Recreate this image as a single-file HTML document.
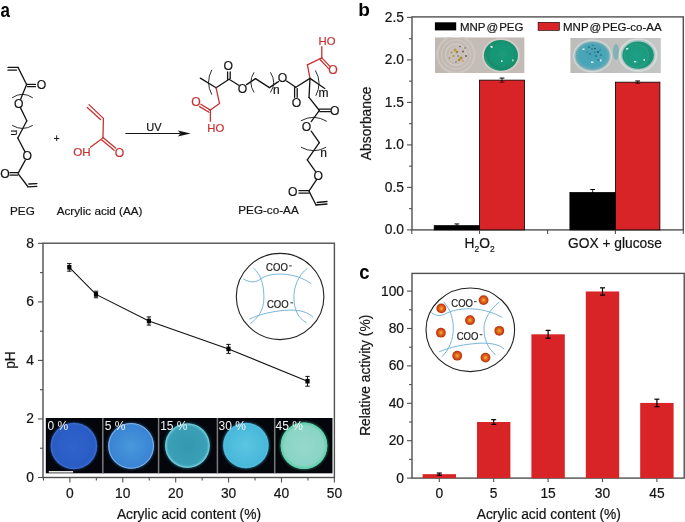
<!DOCTYPE html>
<html><head><meta charset="utf-8"><style>
html,body{margin:0;padding:0;background:#fff;overflow:hidden;}
svg{display:block;font-family:"Liberation Sans", sans-serif;will-change:transform;}
</style></head><body>
<svg width="685" height="522" viewBox="0 0 685 522">
<defs>
<radialGradient id="dot" cx="0.5" cy="0.5" r="0.5"><stop offset="0" stop-color="#f8b43a"/><stop offset="0.35" stop-color="#e8741e"/><stop offset="0.8" stop-color="#c8400f"/><stop offset="1" stop-color="#a83010"/></radialGradient>
<radialGradient id="c1"><stop offset="0" stop-color="#3064cc"/><stop offset="0.9" stop-color="#2b5bc4"/><stop offset="1" stop-color="#3e70d0"/></radialGradient>
<radialGradient id="c2"><stop offset="0" stop-color="#4898dc"/><stop offset="0.92" stop-color="#3a84d4"/><stop offset="1" stop-color="#5c9ce0"/></radialGradient>
<radialGradient id="c3"><stop offset="0" stop-color="#3498b0"/><stop offset="0.85" stop-color="#3aa0b6"/><stop offset="1" stop-color="#66c2d4"/></radialGradient>
<radialGradient id="c4"><stop offset="0" stop-color="#5cc6e2"/><stop offset="0.9" stop-color="#48b8da"/><stop offset="1" stop-color="#56c0e0"/></radialGradient>
<radialGradient id="c5"><stop offset="0" stop-color="#96d8cc"/><stop offset="0.85" stop-color="#8ad4c6"/><stop offset="1" stop-color="#62cbae"/></radialGradient>
<linearGradient id="bg1" x1="0" x2="1"><stop offset="0" stop-color="#c0b8b0"/><stop offset="0.5" stop-color="#c4bcb6"/><stop offset="1" stop-color="#c2bab6"/></linearGradient>
<linearGradient id="bg2" x1="0" x2="1"><stop offset="0" stop-color="#bcbcba"/><stop offset="1" stop-color="#c4c6c4"/></linearGradient>
<radialGradient id="gw" cx="0.5" cy="0.5" r="0.5"><stop offset="0" stop-color="#1b9a78"/><stop offset="0.8" stop-color="#179674"/><stop offset="1" stop-color="#16906e"/></radialGradient>
<radialGradient id="gw2" cx="0.5" cy="0.5" r="0.5"><stop offset="0" stop-color="#20a084"/><stop offset="0.85" stop-color="#1c9a7e"/><stop offset="1" stop-color="#2aa288"/></radialGradient>
<radialGradient id="bw" cx="0.5" cy="0.5" r="0.5"><stop offset="0" stop-color="#44a2b6"/><stop offset="0.85" stop-color="#4aa6b8"/><stop offset="1" stop-color="#54a8b8"/></radialGradient>
<filter id="bl" x="-20%" y="-20%" width="140%" height="140%"><feGaussianBlur stdDeviation="0.45"/></filter>
<filter id="glow" x="-30%" y="-30%" width="160%" height="160%"><feGaussianBlur stdDeviation="1.2"/></filter>
<clipPath id="p1"><rect x="435" y="37.3" width="89.6" height="35.7"/></clipPath>
</defs>
<rect width="685" height="522" fill="#fff"/>
<text x="0.60" y="16.90" font-size="20" fill="#000" text-anchor="start" font-weight="bold" transform="translate(0.6 0) scale(0.85 1) translate(-0.6 0)">a</text>
<text x="358.30" y="16.20" font-size="19" fill="#000" text-anchor="start" font-weight="bold" >b</text>
<text x="359.30" y="278.90" font-size="20.5" fill="#000" text-anchor="start" font-weight="bold" transform="translate(359.3 0) scale(0.9 1) translate(-359.3 0)">c</text>
<rect x="412.0" y="16.9" width="271.29999999999995" height="213.0" fill="none" stroke="#505050" stroke-width="1.4"/>
<rect x="434.2" y="225.65" width="45.30" height="4.25" fill="#000" stroke="#000" stroke-width="0.8"/>
<line x1="456.85" y1="223.95" x2="456.85" y2="227.35" stroke="#000" stroke-width="1" opacity="0.8"/>
<line x1="454.45" y1="223.95" x2="459.25" y2="223.95" stroke="#000" stroke-width="1" />
<line x1="454.45" y1="227.35" x2="459.25" y2="227.35" stroke="#000" stroke-width="1" opacity="0.6"/>
<rect x="479.5" y="80.13" width="45.00" height="149.77" fill="#d82426" stroke="#000" stroke-width="0.8"/>
<line x1="502.00" y1="78.09" x2="502.00" y2="82.17" stroke="#000" stroke-width="1" opacity="0.8"/>
<line x1="499.60" y1="78.09" x2="504.40" y2="78.09" stroke="#000" stroke-width="1" />
<line x1="499.60" y1="82.17" x2="504.40" y2="82.17" stroke="#000" stroke-width="1" opacity="0.6"/>
<rect x="569.9" y="192.50" width="45.50" height="37.40" fill="#000" stroke="#000" stroke-width="0.8"/>
<line x1="592.65" y1="189.53" x2="592.65" y2="195.47" stroke="#000" stroke-width="1" opacity="0.8"/>
<line x1="590.25" y1="189.53" x2="595.05" y2="189.53" stroke="#000" stroke-width="1" />
<line x1="590.25" y1="195.47" x2="595.05" y2="195.47" stroke="#000" stroke-width="1" opacity="0.6"/>
<rect x="615.4" y="82.17" width="44.50" height="147.73" fill="#d82426" stroke="#000" stroke-width="0.8"/>
<line x1="637.65" y1="80.98" x2="637.65" y2="83.36" stroke="#000" stroke-width="1" opacity="0.8"/>
<line x1="635.25" y1="80.98" x2="640.05" y2="80.98" stroke="#000" stroke-width="1" />
<line x1="635.25" y1="83.36" x2="640.05" y2="83.36" stroke="#000" stroke-width="1" opacity="0.6"/>
<line x1="407.00" y1="229.90" x2="412.00" y2="229.90" stroke="#505050" stroke-width="1.1" />
<text x="404.00" y="234.40" font-size="13.8" fill="#141414" text-anchor="end" font-weight="normal" stroke="#141414" stroke-width="0.2" >0.0</text>
<line x1="409.00" y1="208.65" x2="412.00" y2="208.65" stroke="#505050" stroke-width="1.1" />
<line x1="407.00" y1="187.40" x2="412.00" y2="187.40" stroke="#505050" stroke-width="1.1" />
<text x="404.00" y="191.90" font-size="13.8" fill="#141414" text-anchor="end" font-weight="normal" stroke="#141414" stroke-width="0.2" >0.5</text>
<line x1="409.00" y1="166.15" x2="412.00" y2="166.15" stroke="#505050" stroke-width="1.1" />
<line x1="407.00" y1="144.90" x2="412.00" y2="144.90" stroke="#505050" stroke-width="1.1" />
<text x="404.00" y="149.40" font-size="13.8" fill="#141414" text-anchor="end" font-weight="normal" stroke="#141414" stroke-width="0.2" >1.0</text>
<line x1="409.00" y1="123.65" x2="412.00" y2="123.65" stroke="#505050" stroke-width="1.1" />
<line x1="407.00" y1="102.40" x2="412.00" y2="102.40" stroke="#505050" stroke-width="1.1" />
<text x="404.00" y="106.90" font-size="13.8" fill="#141414" text-anchor="end" font-weight="normal" stroke="#141414" stroke-width="0.2" >1.5</text>
<line x1="409.00" y1="81.15" x2="412.00" y2="81.15" stroke="#505050" stroke-width="1.1" />
<line x1="407.00" y1="59.90" x2="412.00" y2="59.90" stroke="#505050" stroke-width="1.1" />
<text x="404.00" y="64.40" font-size="13.8" fill="#141414" text-anchor="end" font-weight="normal" stroke="#141414" stroke-width="0.2" >2.0</text>
<line x1="409.00" y1="38.65" x2="412.00" y2="38.65" stroke="#505050" stroke-width="1.1" />
<line x1="407.00" y1="17.40" x2="412.00" y2="17.40" stroke="#505050" stroke-width="1.1" />
<text x="404.00" y="21.90" font-size="13.8" fill="#141414" text-anchor="end" font-weight="normal" stroke="#141414" stroke-width="0.2" >2.5</text>
<line x1="411.80" y1="229.90" x2="411.80" y2="233.90" stroke="#505050" stroke-width="1.1" />
<line x1="479.50" y1="229.90" x2="479.50" y2="233.90" stroke="#505050" stroke-width="1.1" />
<line x1="547.60" y1="229.90" x2="547.60" y2="233.90" stroke="#505050" stroke-width="1.1" />
<line x1="615.40" y1="229.90" x2="615.40" y2="233.90" stroke="#505050" stroke-width="1.1" />
<line x1="683.30" y1="229.90" x2="683.30" y2="233.90" stroke="#505050" stroke-width="1.1" />
<text x="479.60" y="248.00" font-size="13.8" fill="#141414" text-anchor="middle" font-weight="normal" stroke="#141414" stroke-width="0.2" >H<tspan font-size="8.4" dy="4.2">2</tspan><tspan dy="-4.2">O</tspan><tspan font-size="8.4" dy="4.2">2</tspan></text>
<text x="614.90" y="248.40" font-size="13.8" fill="#141414" text-anchor="middle" font-weight="normal" stroke="#141414" stroke-width="0.2" >GOX + glucose</text>
<text x="371.30" y="123.30" font-size="13.8" fill="#141414" text-anchor="middle" font-weight="normal" stroke="#141414" stroke-width="0.2" transform="rotate(-90 371.3 123.3)">Absorbance</text>
<rect x="434.9" y="22.3" width="21.3" height="8.1" fill="#000"/>
<text x="459.90" y="30.80" font-size="11.5" fill="#141414" text-anchor="start" font-weight="normal" stroke="#141414" stroke-width="0.2" >MNP<tspan dx="1">@</tspan><tspan dx="1">PEG</tspan></text>
<rect x="538.1" y="22.3" width="21.3" height="8.1" fill="#d82426" stroke="#000" stroke-width="0.6"/>
<text x="563.00" y="30.80" font-size="11.5" fill="#141414" text-anchor="start" font-weight="normal" stroke="#141414" stroke-width="0.2" >MNP<tspan dx="1">@</tspan><tspan dx="1">PEG-co-AA</tspan></text>
<rect x="412.0" y="273.4" width="272.20000000000005" height="204.70000000000005" fill="none" stroke="#505050" stroke-width="1.4"/>
<rect x="422.60" y="474.17" width="33.4" height="3.93" fill="#d82426"/>
<line x1="439.30" y1="473.05" x2="439.30" y2="475.30" stroke="#000" stroke-width="1.2" />
<line x1="436.80" y1="473.05" x2="441.80" y2="473.05" stroke="#000" stroke-width="1.2" />
<line x1="436.80" y1="475.30" x2="441.80" y2="475.30" stroke="#000" stroke-width="1.2" />
<line x1="439.30" y1="478.10" x2="439.30" y2="482.10" stroke="#505050" stroke-width="1.1" />
<text x="439.30" y="498.30" font-size="13.8" fill="#141414" text-anchor="middle" font-weight="normal" stroke="#141414" stroke-width="0.2" >0</text>
<rect x="477.00" y="422.00" width="33.4" height="56.10" fill="#d82426"/>
<line x1="493.70" y1="419.66" x2="493.70" y2="424.34" stroke="#000" stroke-width="1.2" />
<line x1="491.20" y1="419.66" x2="496.20" y2="419.66" stroke="#000" stroke-width="1.2" />
<line x1="491.20" y1="424.34" x2="496.20" y2="424.34" stroke="#000" stroke-width="1.2" />
<line x1="493.70" y1="478.10" x2="493.70" y2="482.10" stroke="#505050" stroke-width="1.1" />
<text x="493.70" y="498.30" font-size="13.8" fill="#141414" text-anchor="middle" font-weight="normal" stroke="#141414" stroke-width="0.2" >5</text>
<rect x="531.40" y="334.30" width="33.4" height="143.80" fill="#d82426"/>
<line x1="548.10" y1="330.37" x2="548.10" y2="338.22" stroke="#000" stroke-width="1.2" />
<line x1="545.60" y1="330.37" x2="550.60" y2="330.37" stroke="#000" stroke-width="1.2" />
<line x1="545.60" y1="338.22" x2="550.60" y2="338.22" stroke="#000" stroke-width="1.2" />
<line x1="548.10" y1="478.10" x2="548.10" y2="482.10" stroke="#505050" stroke-width="1.1" />
<text x="548.10" y="498.30" font-size="13.8" fill="#141414" text-anchor="middle" font-weight="normal" stroke="#141414" stroke-width="0.2" >15</text>
<rect x="585.80" y="291.47" width="33.4" height="186.63" fill="#d82426"/>
<line x1="602.50" y1="287.83" x2="602.50" y2="295.12" stroke="#000" stroke-width="1.2" />
<line x1="600.00" y1="287.83" x2="605.00" y2="287.83" stroke="#000" stroke-width="1.2" />
<line x1="600.00" y1="295.12" x2="605.00" y2="295.12" stroke="#000" stroke-width="1.2" />
<line x1="602.50" y1="478.10" x2="602.50" y2="482.10" stroke="#505050" stroke-width="1.1" />
<text x="602.50" y="498.30" font-size="13.8" fill="#141414" text-anchor="middle" font-weight="normal" stroke="#141414" stroke-width="0.2" >30</text>
<rect x="640.20" y="402.93" width="33.4" height="75.17" fill="#d82426"/>
<line x1="656.90" y1="399.19" x2="656.90" y2="406.67" stroke="#000" stroke-width="1.2" />
<line x1="654.40" y1="399.19" x2="659.40" y2="399.19" stroke="#000" stroke-width="1.2" />
<line x1="654.40" y1="406.67" x2="659.40" y2="406.67" stroke="#000" stroke-width="1.2" />
<line x1="656.90" y1="478.10" x2="656.90" y2="482.10" stroke="#505050" stroke-width="1.1" />
<text x="656.90" y="498.30" font-size="13.8" fill="#141414" text-anchor="middle" font-weight="normal" stroke="#141414" stroke-width="0.2" >45</text>
<line x1="407.00" y1="478.10" x2="412.00" y2="478.10" stroke="#505050" stroke-width="1.1" />
<text x="404.00" y="482.60" font-size="13.8" fill="#141414" text-anchor="end" font-weight="normal" stroke="#141414" stroke-width="0.2" >0</text>
<line x1="409.00" y1="459.40" x2="412.00" y2="459.40" stroke="#505050" stroke-width="1.1" />
<line x1="407.00" y1="440.70" x2="412.00" y2="440.70" stroke="#505050" stroke-width="1.1" />
<text x="404.00" y="445.20" font-size="13.8" fill="#141414" text-anchor="end" font-weight="normal" stroke="#141414" stroke-width="0.2" >20</text>
<line x1="409.00" y1="422.00" x2="412.00" y2="422.00" stroke="#505050" stroke-width="1.1" />
<line x1="407.00" y1="403.30" x2="412.00" y2="403.30" stroke="#505050" stroke-width="1.1" />
<text x="404.00" y="407.80" font-size="13.8" fill="#141414" text-anchor="end" font-weight="normal" stroke="#141414" stroke-width="0.2" >40</text>
<line x1="409.00" y1="384.60" x2="412.00" y2="384.60" stroke="#505050" stroke-width="1.1" />
<line x1="407.00" y1="365.90" x2="412.00" y2="365.90" stroke="#505050" stroke-width="1.1" />
<text x="404.00" y="370.40" font-size="13.8" fill="#141414" text-anchor="end" font-weight="normal" stroke="#141414" stroke-width="0.2" >60</text>
<line x1="409.00" y1="347.20" x2="412.00" y2="347.20" stroke="#505050" stroke-width="1.1" />
<line x1="407.00" y1="328.50" x2="412.00" y2="328.50" stroke="#505050" stroke-width="1.1" />
<text x="404.00" y="333.00" font-size="13.8" fill="#141414" text-anchor="end" font-weight="normal" stroke="#141414" stroke-width="0.2" >80</text>
<line x1="409.00" y1="309.80" x2="412.00" y2="309.80" stroke="#505050" stroke-width="1.1" />
<line x1="407.00" y1="291.10" x2="412.00" y2="291.10" stroke="#505050" stroke-width="1.1" />
<text x="404.00" y="295.60" font-size="13.8" fill="#141414" text-anchor="end" font-weight="normal" stroke="#141414" stroke-width="0.2" >100</text>
<text x="548.80" y="518.50" font-size="13.8" fill="#141414" text-anchor="middle" font-weight="normal" stroke="#141414" stroke-width="0.2" >Acrylic acid content (%)</text>
<text x="370.40" y="375.30" font-size="13.8" fill="#141414" text-anchor="middle" font-weight="normal" stroke="#141414" stroke-width="0.2" transform="rotate(-90 370.4 375.3)">Relative activity (%)</text>
<rect x="43.0" y="243.2" width="291.4" height="234.3" fill="none" stroke="#505050" stroke-width="1.4"/>
<line x1="38.00" y1="477.50" x2="43.00" y2="477.50" stroke="#505050" stroke-width="1.1" />
<text x="34.00" y="482.00" font-size="13.8" fill="#141414" text-anchor="end" font-weight="normal" stroke="#141414" stroke-width="0.2" >0</text>
<line x1="40.00" y1="448.23" x2="43.00" y2="448.23" stroke="#505050" stroke-width="1.1" />
<line x1="38.00" y1="418.96" x2="43.00" y2="418.96" stroke="#505050" stroke-width="1.1" />
<text x="34.00" y="423.46" font-size="13.8" fill="#141414" text-anchor="end" font-weight="normal" stroke="#141414" stroke-width="0.2" >2</text>
<line x1="40.00" y1="389.69" x2="43.00" y2="389.69" stroke="#505050" stroke-width="1.1" />
<line x1="38.00" y1="360.42" x2="43.00" y2="360.42" stroke="#505050" stroke-width="1.1" />
<text x="34.00" y="364.92" font-size="13.8" fill="#141414" text-anchor="end" font-weight="normal" stroke="#141414" stroke-width="0.2" >4</text>
<line x1="40.00" y1="331.15" x2="43.00" y2="331.15" stroke="#505050" stroke-width="1.1" />
<line x1="38.00" y1="301.88" x2="43.00" y2="301.88" stroke="#505050" stroke-width="1.1" />
<text x="34.00" y="306.38" font-size="13.8" fill="#141414" text-anchor="end" font-weight="normal" stroke="#141414" stroke-width="0.2" >6</text>
<line x1="40.00" y1="272.61" x2="43.00" y2="272.61" stroke="#505050" stroke-width="1.1" />
<line x1="38.00" y1="243.34" x2="43.00" y2="243.34" stroke="#505050" stroke-width="1.1" />
<text x="34.00" y="247.84" font-size="13.8" fill="#141414" text-anchor="end" font-weight="normal" stroke="#141414" stroke-width="0.2" >8</text>
<line x1="43.45" y1="477.50" x2="43.45" y2="480.50" stroke="#505050" stroke-width="1.1" />
<line x1="69.90" y1="477.50" x2="69.90" y2="482.50" stroke="#505050" stroke-width="1.1" />
<text x="69.90" y="498.30" font-size="13.8" fill="#141414" text-anchor="middle" font-weight="normal" stroke="#141414" stroke-width="0.2" >0</text>
<line x1="96.35" y1="477.50" x2="96.35" y2="480.50" stroke="#505050" stroke-width="1.1" />
<line x1="122.80" y1="477.50" x2="122.80" y2="482.50" stroke="#505050" stroke-width="1.1" />
<text x="122.80" y="498.30" font-size="13.8" fill="#141414" text-anchor="middle" font-weight="normal" stroke="#141414" stroke-width="0.2" >10</text>
<line x1="149.25" y1="477.50" x2="149.25" y2="480.50" stroke="#505050" stroke-width="1.1" />
<line x1="175.70" y1="477.50" x2="175.70" y2="482.50" stroke="#505050" stroke-width="1.1" />
<text x="175.70" y="498.30" font-size="13.8" fill="#141414" text-anchor="middle" font-weight="normal" stroke="#141414" stroke-width="0.2" >20</text>
<line x1="202.15" y1="477.50" x2="202.15" y2="480.50" stroke="#505050" stroke-width="1.1" />
<line x1="228.60" y1="477.50" x2="228.60" y2="482.50" stroke="#505050" stroke-width="1.1" />
<text x="228.60" y="498.30" font-size="13.8" fill="#141414" text-anchor="middle" font-weight="normal" stroke="#141414" stroke-width="0.2" >30</text>
<line x1="255.05" y1="477.50" x2="255.05" y2="480.50" stroke="#505050" stroke-width="1.1" />
<line x1="281.50" y1="477.50" x2="281.50" y2="482.50" stroke="#505050" stroke-width="1.1" />
<text x="281.50" y="498.30" font-size="13.8" fill="#141414" text-anchor="middle" font-weight="normal" stroke="#141414" stroke-width="0.2" >40</text>
<line x1="307.95" y1="477.50" x2="307.95" y2="480.50" stroke="#505050" stroke-width="1.1" />
<line x1="334.40" y1="477.50" x2="334.40" y2="482.50" stroke="#505050" stroke-width="1.1" />
<text x="334.40" y="498.30" font-size="13.8" fill="#141414" text-anchor="middle" font-weight="normal" stroke="#141414" stroke-width="0.2" >50</text>
<text x="189.00" y="518.50" font-size="13.8" fill="#141414" text-anchor="middle" font-weight="normal" stroke="#141414" stroke-width="0.2" >Acrylic acid content (%)</text>
<text x="14.60" y="360.00" font-size="13.8" fill="#141414" text-anchor="middle" font-weight="normal" stroke="#141414" stroke-width="0.2" transform="rotate(-90 14.6 360)">pH</text>
<line x1="8.00" y1="67.40" x2="18.00" y2="67.40" stroke="#141414" stroke-width="1.3" stroke-linecap="round"/>
<line x1="8.00" y1="70.20" x2="16.50" y2="70.20" stroke="#141414" stroke-width="1.3" stroke-linecap="round"/>
<line x1="18.00" y1="67.40" x2="26.60" y2="84.50" stroke="#141414" stroke-width="1.3" stroke-linecap="round"/>
<line x1="26.60" y1="84.40" x2="35.40" y2="84.40" stroke="#141414" stroke-width="1.3" stroke-linecap="round"/>
<line x1="27.40" y1="86.70" x2="35.40" y2="86.70" stroke="#141414" stroke-width="1.3" stroke-linecap="round"/>
<text x="41.60" y="88.97" font-size="12.2" fill="#141414" text-anchor="middle" font-weight="normal" stroke="#141414" stroke-width="0.2" >O</text>
<line x1="26.60" y1="84.50" x2="20.60" y2="99.30" stroke="#141414" stroke-width="1.3" stroke-linecap="round"/>
<path d="M12.1,97.8 Q22.4,90.8 32.8,97.8" fill="none" stroke="#141414" stroke-width="0.9"/>
<text x="18.70" y="107.57" font-size="12.2" fill="#141414" text-anchor="middle" font-weight="normal" stroke="#141414" stroke-width="0.2" >O</text>
<line x1="20.40" y1="107.60" x2="26.80" y2="120.80" stroke="#141414" stroke-width="1.3" stroke-linecap="round"/>
<line x1="26.80" y1="120.80" x2="17.80" y2="138.00" stroke="#141414" stroke-width="1.3" stroke-linecap="round"/>
<path d="M12.2,125.3 Q22.4,131.6 32.8,125.3" fill="none" stroke="#141414" stroke-width="0.9"/>
<text x="11.10" y="132.70" font-size="10.6" fill="#141414" text-anchor="middle" font-weight="normal" stroke="#141414" stroke-width="0.2" transform="rotate(90 11.1 132.7)">n</text>
<line x1="17.80" y1="138.00" x2="24.90" y2="151.60" stroke="#141414" stroke-width="1.3" stroke-linecap="round"/>
<text x="27.30" y="160.37" font-size="12.2" fill="#141414" text-anchor="middle" font-weight="normal" stroke="#141414" stroke-width="0.2" >O</text>
<line x1="25.20" y1="160.40" x2="18.20" y2="173.10" stroke="#141414" stroke-width="1.3" stroke-linecap="round"/>
<line x1="10.00" y1="172.60" x2="18.20" y2="172.60" stroke="#141414" stroke-width="1.3" stroke-linecap="round"/>
<line x1="10.00" y1="175.20" x2="17.60" y2="175.20" stroke="#141414" stroke-width="1.3" stroke-linecap="round"/>
<text x="5.00" y="178.27" font-size="12.2" fill="#141414" text-anchor="middle" font-weight="normal" stroke="#141414" stroke-width="0.2" >O</text>
<line x1="18.20" y1="173.90" x2="27.80" y2="186.50" stroke="#141414" stroke-width="1.3" stroke-linecap="round"/>
<line x1="28.80" y1="184.00" x2="36.90" y2="183.60" stroke="#141414" stroke-width="1.3" stroke-linecap="round"/>
<line x1="27.80" y1="186.80" x2="36.90" y2="186.40" stroke="#141414" stroke-width="1.3" stroke-linecap="round"/>
<text x="56.70" y="142.20" font-size="10" fill="#141414" text-anchor="middle" font-weight="normal" stroke="#141414" stroke-width="0.2" >+</text>
<line x1="89.00" y1="104.60" x2="103.40" y2="118.40" stroke="#c83232" stroke-width="1.3" stroke-linecap="round"/>
<line x1="87.30" y1="107.50" x2="100.50" y2="119.60" stroke="#c83232" stroke-width="1.3" stroke-linecap="round"/>
<line x1="103.40" y1="118.40" x2="103.00" y2="137.40" stroke="#c83232" stroke-width="1.3" stroke-linecap="round"/>
<line x1="103.00" y1="137.40" x2="115.60" y2="148.00" stroke="#c83232" stroke-width="1.3" stroke-linecap="round"/>
<line x1="101.80" y1="139.90" x2="114.20" y2="150.20" stroke="#c83232" stroke-width="1.3" stroke-linecap="round"/>
<text x="119.50" y="156.77" font-size="12.2" fill="#c83232" text-anchor="middle" font-weight="normal" stroke="#c83232" stroke-width="0.2" >O</text>
<line x1="102.60" y1="138.20" x2="90.40" y2="147.20" stroke="#c83232" stroke-width="1.3" stroke-linecap="round"/>
<text x="73.30" y="155.80" font-size="11.6" fill="#c83232" text-anchor="start" font-weight="normal" stroke="#c83232" stroke-width="0.2" >OH</text>
<line x1="125.80" y1="133.50" x2="180.00" y2="133.50" stroke="#141414" stroke-width="1.1" stroke-linecap="round"/>
<path d="M190.7,133.5 L177.8,130.6 L180.5,133.5 L177.8,136.4 Z" fill="#141414"/>
<text x="153.90" y="130.90" font-size="11" fill="#141414" text-anchor="middle" font-weight="normal" stroke="#141414" stroke-width="0.2" >UV</text>
<line x1="200.30" y1="78.10" x2="216.10" y2="87.80" stroke="#141414" stroke-width="1.3" stroke-linecap="round"/>
<path d="M211.8,69.8 Q205.3,82.3 211.8,94.7" fill="none" stroke="#141414" stroke-width="0.9"/>
<line x1="216.10" y1="87.80" x2="229.10" y2="79.30" stroke="#141414" stroke-width="1.3" stroke-linecap="round"/>
<line x1="227.60" y1="79.30" x2="227.60" y2="72.00" stroke="#141414" stroke-width="1.3" stroke-linecap="round"/>
<line x1="230.20" y1="78.40" x2="230.20" y2="72.00" stroke="#141414" stroke-width="1.3" stroke-linecap="round"/>
<text x="228.30" y="69.97" font-size="12.2" fill="#141414" text-anchor="middle" font-weight="normal" stroke="#141414" stroke-width="0.2" >O</text>
<line x1="229.10" y1="79.30" x2="238.80" y2="85.30" stroke="#141414" stroke-width="1.3" stroke-linecap="round"/>
<text x="242.60" y="92.87" font-size="12.2" fill="#141414" text-anchor="middle" font-weight="normal" stroke="#141414" stroke-width="0.2" >O</text>
<line x1="246.60" y1="84.60" x2="255.50" y2="78.60" stroke="#141414" stroke-width="1.3" stroke-linecap="round"/>
<path d="M254.1,72.3 Q247.6,82.4 254.1,92.5" fill="none" stroke="#141414" stroke-width="0.9"/>
<line x1="255.50" y1="78.60" x2="269.40" y2="87.60" stroke="#141414" stroke-width="1.3" stroke-linecap="round"/>
<path d="M270.4,72.3 Q277.0,82.4 270.4,92.5" fill="none" stroke="#141414" stroke-width="0.9"/>
<line x1="269.40" y1="87.60" x2="278.40" y2="81.60" stroke="#141414" stroke-width="1.3" stroke-linecap="round"/>
<text x="276.40" y="94.40" font-size="12" fill="#141414" text-anchor="middle" font-weight="normal" stroke="#141414" stroke-width="0.2" >n</text>
<text x="282.40" y="82.07" font-size="12.2" fill="#141414" text-anchor="middle" font-weight="normal" stroke="#141414" stroke-width="0.2" >O</text>
<line x1="286.60" y1="81.00" x2="295.80" y2="87.20" stroke="#141414" stroke-width="1.3" stroke-linecap="round"/>
<line x1="294.60" y1="87.60" x2="294.60" y2="97.30" stroke="#141414" stroke-width="1.3" stroke-linecap="round"/>
<line x1="297.20" y1="88.60" x2="297.20" y2="97.30" stroke="#141414" stroke-width="1.3" stroke-linecap="round"/>
<text x="296.50" y="106.97" font-size="12.2" fill="#141414" text-anchor="middle" font-weight="normal" stroke="#141414" stroke-width="0.2" >O</text>
<line x1="295.80" y1="87.20" x2="310.00" y2="78.40" stroke="#141414" stroke-width="1.3" stroke-linecap="round"/>
<line x1="310.00" y1="78.40" x2="307.40" y2="64.80" stroke="#c83232" stroke-width="1.3" stroke-linecap="round"/>
<line x1="307.40" y1="64.80" x2="321.80" y2="57.90" stroke="#c83232" stroke-width="1.3" stroke-linecap="round"/>
<line x1="321.80" y1="57.90" x2="321.80" y2="46.60" stroke="#c83232" stroke-width="1.3" stroke-linecap="round"/>
<text x="318.60" y="44.80" font-size="11.3" fill="#c83232" text-anchor="start" font-weight="normal" stroke="#c83232" stroke-width="0.2" >HO</text>
<line x1="321.80" y1="57.90" x2="330.20" y2="66.60" stroke="#c83232" stroke-width="1.3" stroke-linecap="round"/>
<line x1="320.20" y1="59.80" x2="328.40" y2="68.40" stroke="#c83232" stroke-width="1.3" stroke-linecap="round"/>
<text x="333.00" y="74.17" font-size="12.2" fill="#c83232" text-anchor="middle" font-weight="normal" stroke="#c83232" stroke-width="0.2" >O</text>
<line x1="310.00" y1="78.40" x2="324.80" y2="88.50" stroke="#141414" stroke-width="1.3" stroke-linecap="round"/>
<path d="M315.3,70.4 Q322.6,82.5 315.8,95.8" fill="none" stroke="#141414" stroke-width="0.9"/>
<text x="323.40" y="97.00" font-size="12" fill="#141414" text-anchor="middle" font-weight="normal" stroke="#141414" stroke-width="0.2" >m</text>
<line x1="310.00" y1="78.40" x2="309.00" y2="97.40" stroke="#141414" stroke-width="1.3" stroke-linecap="round"/>
<line x1="309.00" y1="97.40" x2="319.40" y2="110.50" stroke="#141414" stroke-width="1.3" stroke-linecap="round"/>
<line x1="319.40" y1="109.10" x2="330.40" y2="109.10" stroke="#141414" stroke-width="1.3" stroke-linecap="round"/>
<line x1="319.80" y1="111.70" x2="330.40" y2="111.70" stroke="#141414" stroke-width="1.3" stroke-linecap="round"/>
<text x="334.70" y="114.77" font-size="12.2" fill="#141414" text-anchor="middle" font-weight="normal" stroke="#141414" stroke-width="0.2" >O</text>
<line x1="319.40" y1="110.40" x2="311.20" y2="121.60" stroke="#141414" stroke-width="1.3" stroke-linecap="round"/>
<path d="M300.9,120.8 Q313.8,113.6 326.8,121.3" fill="none" stroke="#141414" stroke-width="0.9"/>
<text x="306.40" y="130.77" font-size="12.2" fill="#141414" text-anchor="middle" font-weight="normal" stroke="#141414" stroke-width="0.2" >O</text>
<line x1="311.20" y1="131.10" x2="319.30" y2="142.70" stroke="#141414" stroke-width="1.3" stroke-linecap="round"/>
<line x1="319.30" y1="142.70" x2="307.30" y2="159.80" stroke="#141414" stroke-width="1.3" stroke-linecap="round"/>
<path d="M300.9,147.2 Q314.0,154.2 326.2,147.2" fill="none" stroke="#141414" stroke-width="0.9"/>
<text x="323.60" y="157.10" font-size="12" fill="#141414" text-anchor="middle" font-weight="normal" stroke="#141414" stroke-width="0.2" >n</text>
<line x1="307.30" y1="159.80" x2="315.40" y2="171.40" stroke="#141414" stroke-width="1.3" stroke-linecap="round"/>
<text x="318.30" y="179.97" font-size="12.2" fill="#141414" text-anchor="middle" font-weight="normal" stroke="#141414" stroke-width="0.2" >O</text>
<line x1="316.60" y1="179.60" x2="309.10" y2="190.90" stroke="#141414" stroke-width="1.3" stroke-linecap="round"/>
<line x1="298.90" y1="190.60" x2="309.10" y2="190.60" stroke="#141414" stroke-width="1.3" stroke-linecap="round"/>
<line x1="298.90" y1="193.10" x2="309.10" y2="193.10" stroke="#141414" stroke-width="1.3" stroke-linecap="round"/>
<text x="292.70" y="196.17" font-size="12.2" fill="#141414" text-anchor="middle" font-weight="normal" stroke="#141414" stroke-width="0.2" >O</text>
<line x1="309.10" y1="191.40" x2="316.00" y2="205.00" stroke="#141414" stroke-width="1.3" stroke-linecap="round"/>
<line x1="317.10" y1="202.50" x2="327.00" y2="201.50" stroke="#141414" stroke-width="1.3" stroke-linecap="round"/>
<line x1="316.00" y1="205.00" x2="327.00" y2="204.00" stroke="#141414" stroke-width="1.3" stroke-linecap="round"/>
<line x1="216.10" y1="87.80" x2="219.50" y2="103.40" stroke="#c83232" stroke-width="1.3" stroke-linecap="round"/>
<line x1="219.50" y1="103.40" x2="210.40" y2="110.10" stroke="#c83232" stroke-width="1.3" stroke-linecap="round"/>
<line x1="210.40" y1="110.10" x2="200.80" y2="104.30" stroke="#c83232" stroke-width="1.3" stroke-linecap="round"/>
<line x1="209.00" y1="112.20" x2="199.60" y2="106.60" stroke="#c83232" stroke-width="1.3" stroke-linecap="round"/>
<text x="196.00" y="106.17" font-size="12.2" fill="#c83232" text-anchor="middle" font-weight="normal" stroke="#c83232" stroke-width="0.2" >O</text>
<line x1="210.40" y1="110.10" x2="210.40" y2="121.20" stroke="#c83232" stroke-width="1.3" stroke-linecap="round"/>
<text x="207.30" y="132.10" font-size="11.3" fill="#c83232" text-anchor="start" font-weight="normal" stroke="#c83232" stroke-width="0.2" >HO</text>
<text x="22.40" y="214.80" font-size="11.7" fill="#141414" text-anchor="middle" font-weight="normal" stroke="#141414" stroke-width="0.2" >PEG</text>
<text x="99.60" y="214.80" font-size="11.7" fill="#141414" text-anchor="middle" font-weight="normal" stroke="#141414" stroke-width="0.2" >Acrylic acid (AA)</text>
<text x="268.50" y="214.10" font-size="11.7" fill="#141414" text-anchor="middle" font-weight="normal" stroke="#141414" stroke-width="0.2" >PEG-co-AA</text>
<path d="M69.3,267.3 L96.0,294.4 L148.9,321.0 L228.5,348.9 L307.5,381.2" fill="none" stroke="#111" stroke-width="1.1"/>
<line x1="69.30" y1="263.60" x2="69.30" y2="271.20" stroke="#111" stroke-width="1.0" />
<line x1="67.10" y1="263.60" x2="71.50" y2="263.60" stroke="#111" stroke-width="1.0" />
<line x1="67.10" y1="271.20" x2="71.50" y2="271.20" stroke="#111" stroke-width="1.0" />
<rect x="67.20" y="265.00" width="4.2" height="4.6" fill="#000"/>
<line x1="96.00" y1="291.20" x2="96.00" y2="297.80" stroke="#111" stroke-width="1.0" />
<line x1="93.80" y1="291.20" x2="98.20" y2="291.20" stroke="#111" stroke-width="1.0" />
<line x1="93.80" y1="297.80" x2="98.20" y2="297.80" stroke="#111" stroke-width="1.0" />
<rect x="93.90" y="292.10" width="4.2" height="4.6" fill="#000"/>
<line x1="148.90" y1="316.90" x2="148.90" y2="325.10" stroke="#111" stroke-width="1.0" />
<line x1="146.70" y1="316.90" x2="151.10" y2="316.90" stroke="#111" stroke-width="1.0" />
<line x1="146.70" y1="325.10" x2="151.10" y2="325.10" stroke="#111" stroke-width="1.0" />
<rect x="146.80" y="318.70" width="4.2" height="4.6" fill="#000"/>
<line x1="228.50" y1="344.40" x2="228.50" y2="353.40" stroke="#111" stroke-width="1.0" />
<line x1="226.30" y1="344.40" x2="230.70" y2="344.40" stroke="#111" stroke-width="1.0" />
<line x1="226.30" y1="353.40" x2="230.70" y2="353.40" stroke="#111" stroke-width="1.0" />
<rect x="226.40" y="346.60" width="4.2" height="4.6" fill="#000"/>
<line x1="307.50" y1="376.40" x2="307.50" y2="386.20" stroke="#111" stroke-width="1.0" />
<line x1="305.30" y1="376.40" x2="309.70" y2="376.40" stroke="#111" stroke-width="1.0" />
<line x1="305.30" y1="386.20" x2="309.70" y2="386.20" stroke="#111" stroke-width="1.0" />
<rect x="305.40" y="378.90" width="4.2" height="4.6" fill="#000"/>
<ellipse cx="280.1" cy="296.5" rx="43.8" ry="43.1" fill="#fff" stroke="#222" stroke-width="1.1"/>
<path d="M243.3,278.8 C250,283 256,283 262,278 C272,272 295,272 311.2,283.7" fill="none" stroke="#6aaed6" stroke-width="0.9"/>
<path d="M253.5,268.2 C262,275 264,288 263.9,298 C263.9,310 258,318 250.2,323.8" fill="none" stroke="#6aaed6" stroke-width="0.9"/>
<path d="M307.6,268.2 C298,275 293.5,288 293.9,298 C294.2,310 298,318 306.7,322.9" fill="none" stroke="#6aaed6" stroke-width="0.9"/>
<path d="M249.3,319.2 C260,314 275,310.5 290,310.1 C300,310 308,312 313.1,317.4" fill="none" stroke="#6aaed6" stroke-width="0.9"/>
<text x="266.10" y="270.80" font-size="10.2" fill="#1a1a1a" text-anchor="start" font-weight="normal" stroke="#1a1a1a" stroke-width="0.2" transform="translate(266.1 0) scale(0.935 1) translate(-266.1 0)">COO</text>
<line x1="289.00" y1="265.90" x2="291.70" y2="265.90" stroke="#1a1a1a" stroke-width="0.9" />
<text x="267.00" y="307.70" font-size="10.2" fill="#1a1a1a" text-anchor="start" font-weight="normal" stroke="#1a1a1a" stroke-width="0.2" transform="translate(267.0 0) scale(0.935 1) translate(-267.0 0)">COO</text>
<line x1="290.40" y1="302.80" x2="293.10" y2="302.80" stroke="#1a1a1a" stroke-width="0.9" />
<ellipse cx="470.3" cy="329.8" rx="44.3" ry="41.8" fill="#fff" stroke="#222" stroke-width="1.1"/>
<path d="M431.3,312.6 C436,316 440,316.5 445,314 C456,308 480,305 502.2,317.4" fill="none" stroke="#6aaed6" stroke-width="0.9"/>
<path d="M443.7,302 C451,310 453.3,320 453.3,328 C453.3,340 449,350 441.8,356.7" fill="none" stroke="#6aaed6" stroke-width="0.9"/>
<path d="M499.3,302 C490,309 484,320 484,328 C484,338 487,348 495.5,354.7" fill="none" stroke="#6aaed6" stroke-width="0.9"/>
<path d="M439,351.9 C450,347 465,344 480,343.2 C492,342.8 500,345 504.1,349" fill="none" stroke="#6aaed6" stroke-width="0.9"/>
<text x="451.30" y="306.60" font-size="10.2" fill="#1a1a1a" text-anchor="start" font-weight="normal" stroke="#1a1a1a" stroke-width="0.2" transform="translate(451.3 0) scale(0.935 1) translate(-451.3 0)">COO</text>
<line x1="474.00" y1="301.70" x2="476.70" y2="301.70" stroke="#1a1a1a" stroke-width="0.9" />
<text x="456.70" y="339.60" font-size="10.2" fill="#1a1a1a" text-anchor="start" font-weight="normal" stroke="#1a1a1a" stroke-width="0.2" transform="translate(456.7 0) scale(0.935 1) translate(-456.7 0)">COO</text>
<line x1="479.70" y1="334.70" x2="482.40" y2="334.70" stroke="#1a1a1a" stroke-width="0.9" />
<circle cx="441.3" cy="308.4" r="4.9" fill="url(#dot)"/>
<circle cx="483.6" cy="300.1" r="4.9" fill="url(#dot)"/>
<circle cx="470.0" cy="320.2" r="4.9" fill="url(#dot)"/>
<circle cx="440.9" cy="332.7" r="4.9" fill="url(#dot)"/>
<circle cx="499.3" cy="330.8" r="4.9" fill="url(#dot)"/>
<circle cx="457.2" cy="355.7" r="4.9" fill="url(#dot)"/>
<circle cx="485.5" cy="357.6" r="4.9" fill="url(#dot)"/>
<rect x="45.8" y="418" width="286.7" height="55.3" fill="#04060b"/>
<rect x="102.05" y="418" width="1.5" height="55.3" fill="#7a7a7a"/>
<rect x="157.85" y="418" width="1.5" height="55.3" fill="#7a7a7a"/>
<rect x="216.65" y="418" width="1.5" height="55.3" fill="#7a7a7a"/>
<rect x="273.95" y="418" width="1.5" height="55.3" fill="#7a7a7a"/>
<circle cx="73.9" cy="446.0" r="24.1" fill="#2848a0" opacity="0.55" filter="url(#glow)"/>
<circle cx="131.1" cy="445.9" r="23.7" fill="#3070b8" opacity="0.55" filter="url(#glow)"/>
<circle cx="187.4" cy="445.6" r="23.2" fill="#2a88a8" opacity="0.55" filter="url(#glow)"/>
<circle cx="245.9" cy="445.5" r="23.6" fill="#3aa0c8" opacity="0.55" filter="url(#glow)"/>
<circle cx="304.0" cy="445.7" r="24.1" fill="#50b8a0" opacity="0.55" filter="url(#glow)"/>
<g filter="url(#bl)">
<circle cx="73.9" cy="446.0" r="23.3" fill="url(#c1)"/>
<circle cx="131.1" cy="445.9" r="22.9" fill="url(#c2)"/>
<circle cx="187.4" cy="445.6" r="22.4" fill="url(#c3)"/>
<circle cx="245.9" cy="445.5" r="22.8" fill="url(#c4)"/>
<circle cx="304.0" cy="445.7" r="23.3" fill="url(#c5)"/>
<circle cx="131.1" cy="445.9" r="22.4" fill="none" stroke="#b8d8f8" stroke-width="0.8" opacity="0.6"/>
<circle cx="187.4" cy="445.6" r="21.6" fill="none" stroke="#8cd4e0" stroke-width="1.1" opacity="0.5"/>
<circle cx="304.0" cy="445.7" r="22.3" fill="none" stroke="#66d4b0" stroke-width="2" opacity="0.8"/>
</g>
<rect x="48.8" y="471" width="24.3" height="1.6" fill="#e6e6e6"/>
<text x="47.6" y="430" font-size="12" fill="#f4f4f4">0 %</text>
<text x="104.8" y="430" font-size="12" fill="#f4f4f4">5 %</text>
<text x="160.2" y="430" font-size="12" fill="#f4f4f4">15 %</text>
<text x="218.6" y="430" font-size="12" fill="#f4f4f4">30 %</text>
<text x="275.6" y="430" font-size="12" fill="#f4f4f4">45 %</text>
<g filter="url(#bl)"><g clip-path="url(#p1)">
<rect x="435" y="37.3" width="89.6" height="35.7" fill="url(#bg1)"/>
<circle cx="456" cy="54.5" r="18.5" fill="none" stroke="#cdc7c1" stroke-width="2.0"/>
<circle cx="456" cy="54.5" r="14.5" fill="none" stroke="#cbc5bf" stroke-width="1.5"/>
<circle cx="456" cy="54.5" r="10.5" fill="none" stroke="#d0cac4" stroke-width="1.3"/>
<circle cx="457" cy="54.5" r="9" fill="#c8c1bb"/>
<circle cx="455" cy="50" r="1.5" fill="#c09838"/>
<circle cx="457" cy="52" r="1.2" fill="#a88030"/>
<circle cx="461" cy="58" r="1.6" fill="#b08a38"/>
<circle cx="453.5" cy="56" r="1.1" fill="#b89040"/>
<circle cx="463" cy="51.5" r="0.9" fill="#705040"/>
<circle cx="459" cy="60" r="1.3" fill="#b08830"/>
<circle cx="451.5" cy="52.5" r="0.9" fill="#a89050"/>
<circle cx="463" cy="61" r="1.0" fill="#c8a048"/>
<circle cx="456" cy="62" r="0.8" fill="#806050"/>
<circle cx="466" cy="56" r="0.9" fill="#6a5040"/>
<circle cx="449.5" cy="58" r="0.8" fill="#a08040"/>
<circle cx="460" cy="46.5" r="0.8" fill="#705040"/>
<circle cx="465" cy="48" r="0.7" fill="#605040"/>
<circle cx="458" cy="56" r="0.8" fill="#806048"/>
<ellipse cx="500.9" cy="55.4" rx="19" ry="17.2" fill="#d2cdc8"/>
<ellipse cx="500.9" cy="55.4" rx="17" ry="15.3" fill="#178e6c"/>
<ellipse cx="502.5" cy="54.5" rx="14.5" ry="13" fill="url(#gw)"/>
<path d="M486.5,52 A16,15 0 0 0 500,70 A14,13 0 0 1 486.5,52 Z" fill="#3aa88a" opacity="0.7"/>
<rect x="490.3" y="46" width="2.4" height="1.6" fill="#e0f4ec" transform="rotate(35 491.5 46.8)"/>
<rect x="501" y="60.3" width="1.6" height="1.7" fill="#c8ece0"/>
<rect x="512.2" y="59.4" width="1.3" height="1.9" fill="#c8ece0"/>
</g></g>
<g filter="url(#bl)">
<rect x="570.4" y="38" width="90.4" height="35" fill="url(#bg2)"/>
<ellipse cx="592.5" cy="55.9" rx="19.5" ry="16.5" fill="#d4d8d6"/>
<ellipse cx="592.5" cy="55.9" rx="18.3" ry="15.2" fill="#a8c0c4"/>
<ellipse cx="592.5" cy="55.9" rx="17" ry="14" fill="#62a8b6"/>
<ellipse cx="592.5" cy="55.6" rx="15.5" ry="12.6" fill="url(#bw)"/>
<circle cx="589" cy="47" r="0.8" fill="#1c4a58"/>
<circle cx="592" cy="49" r="0.7" fill="#1c4a58"/>
<circle cx="595" cy="48.5" r="0.8" fill="#1c4a58"/>
<circle cx="598" cy="52" r="0.9" fill="#1c4a58"/>
<circle cx="590" cy="54" r="0.7" fill="#1c4a58"/>
<circle cx="596" cy="56" r="0.8" fill="#1c4a58"/>
<circle cx="600" cy="50" r="0.6" fill="#1c4a58"/>
<circle cx="587" cy="52" r="0.6" fill="#1c4a58"/>
<circle cx="598" cy="60" r="0.7" fill="#1c4a58"/>
<circle cx="593" cy="45.5" r="0.6" fill="#1c4a58"/>
<circle cx="601" cy="55" r="0.7" fill="#1c4a58"/>
<circle cx="595" cy="52" r="0.6" fill="#1c4a58"/>
<rect x="582.5" y="48.5" width="2" height="1.5" fill="#e0f2f4"/>
<rect x="591" y="61.5" width="2.4" height="1.5" fill="#e0f2f4"/>
<rect x="600" y="59.5" width="1.5" height="2" fill="#e0f2f4"/>
<ellipse cx="616" cy="52" rx="3" ry="8" fill="#5aa8ae" opacity="0.6"/>
<ellipse cx="638.1" cy="55.1" rx="19.5" ry="16.8" fill="#d6dad8"/>
<ellipse cx="638.1" cy="55.1" rx="17.2" ry="15" fill="#a8c4c0"/>
<ellipse cx="638.1" cy="55.1" rx="15.7" ry="13.6" fill="#1a9478"/>
<ellipse cx="636.5" cy="55.5" rx="12.5" ry="12" fill="url(#gw2)"/>
<rect x="626" y="48" width="2.2" height="1.6" fill="#d8f2ea"/>
<rect x="634" y="61" width="2.2" height="1.4" fill="#d8f2ea"/>
<rect x="643.5" y="59" width="1.4" height="1.8" fill="#d8f2ea"/>
</g>
</svg></body></html>
